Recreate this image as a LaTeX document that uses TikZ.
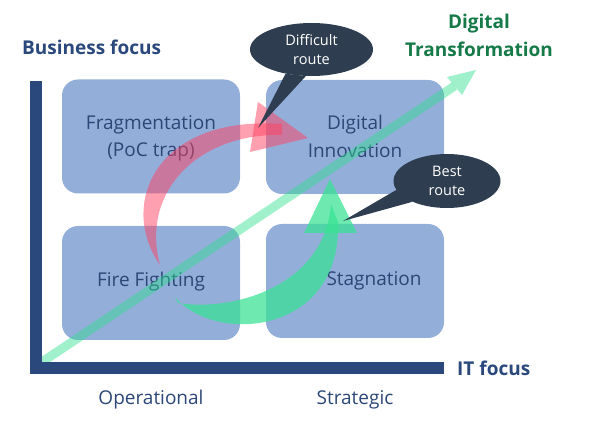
\documentclass[tikz,border=0pt]{standalone}
\usepackage{fontspec}
\setmainfont{Open Sans}
\usetikzlibrary{shapes.geometric,arrows.meta}
\definecolor{boxblue}{RGB}{148,174,218}
\definecolor{axisnavy}{RGB}{42,72,124}
\definecolor{txtnavy}{RGB}{44,70,118}
\definecolor{dtgreen}{RGB}{22,122,72}
\definecolor{callcol}{RGB}{46,62,80}
\definecolor{linegreen}{RGB}{44,222,142}
\definecolor{arrgreen}{RGB}{56,226,147}
\definecolor{arrpink}{RGB}{255,65,97}
\begin{document}
\begin{tikzpicture}[x=1pt,y=-1pt,
  quad/.style={fill=boxblue, rounded corners=16pt, minimum width=178pt, minimum height=114pt, inner sep=0pt},
  quadtext/.style={text=txtnavy, font=\fontsize{19}{23}\selectfont, anchor=base, inner sep=0pt},
  axlabel/.style={text=txtnavy, font=\fontsize{19}{23}\selectfont, anchor=base, inner sep=0pt},
  axtitle/.style={text=axisnavy, font=\fontsize{19}{23}\selectfont\bfseries, anchor=base west, inner sep=0pt},
  dttext/.style={text=dtgreen, font=\fontsize{19}{23}\selectfont\bfseries, anchor=base, inner sep=0pt},
  bubble/.style={ellipse, fill=callcol, inner sep=0pt},
  bubbletext/.style={text=white, font=\fontsize{14.5}{17}\selectfont, anchor=base, inner sep=0pt},
]
\path[use as bounding box] (0,0) rectangle (590,425);

% quadrant boxes
\node[quad] (frag) at (151,136.5) {};
\node[quad] (innov) at (355,137) {};
\node[quad] (fire) at (151,283) {};
\node[quad] (stag) at (355,281) {};

% quadrant texts
\node[quadtext] (frag1) at (151,130) {Fragmentation};
\node[quadtext] (frag2) at (151,157) {(PoC trap)};
\node[quadtext] (innov1) at (355,130) {Digital};
\node[quadtext] (innov2) at (355,158) {Innovation};
\node[quadtext] (fire1) at (151,287) {Fire Fighting};
\node[quadtext] (stag1) at (374,286) {Stagnation};

% diagonal transformation arrow
\coordinate (dstart) at (42,362);
\coordinate (dbase) at (454.5,86);
\coordinate (dend) at (476,70);
\coordinate (dl) at (447,77);
\coordinate (dr) at (462,95);
\draw[line width=9pt, linegreen, opacity=0.45] (dstart) -- (dbase);
\fill[linegreen, opacity=0.45] (dl) -- (dend) -- (dr) -- cycle;

% axes
\coordinate (ytop) at (36,81);
\coordinate (origin) at (36,368);
\coordinate (xend) at (444,368);
\draw[line width=12pt, axisnavy, miter limit=10] (ytop) -- (origin) -- (xend);

% axis labels
\node[axtitle] (bf) at (22,55) {Business focus};
\node[axtitle] (itf) at (457,375) {IT focus};
\node[axlabel] (oper) at (151,404) {Operational};
\node[axlabel] (strat) at (355,404) {Strategic};
\node[dttext] (dt1) at (479,29) {Digital};
\node[dttext] (dt2) at (479,57) {Transformation};

% pink difficult-route arrow
\fill[arrpink, opacity=0.5] (160,265) .. controls (118,205) and (155,115) .. (282,124)
   -- (282,135) .. controls (200,133) and (140,190) .. (160,265) -- cycle;
\fill[arrpink, opacity=0.5] (258,102) -- (308,138) -- (250,152) -- cycle;

% green best-route arrow
\fill[arrgreen, opacity=0.73] (175,297) .. controls (215,345) and (342,335) .. (338,222)
   -- (331,204) .. controls (325,285) and (235,312) .. (178,303) -- cycle;
\fill[arrgreen, opacity=0.73] (330,179) -- (357,233) -- (304,233) -- cycle;

% callouts
\node[bubble, minimum width=123pt, minimum height=53pt] (c1) at (311.5,49.5) {};
\coordinate (p1) at (258,128);
\fill[callcol] (c1.223) -- (p1) -- (c1.258) -- cycle;
\node[bubbletext] (c1a) at (311.5,46) {Difficult};
\node[bubbletext] (c1b) at (311.5,65) {route};

\node[bubble, minimum width=107pt, minimum height=54pt] (c2) at (447,181) {};
\coordinate (p2) at (343,221);
\fill[callcol] (c2.190) -- (p2) -- (c2.211) -- cycle;
\node[bubbletext] (c2a) at (447,177) {Best};
\node[bubbletext] (c2b) at (447,196) {route};
\end{tikzpicture}
\end{document}
